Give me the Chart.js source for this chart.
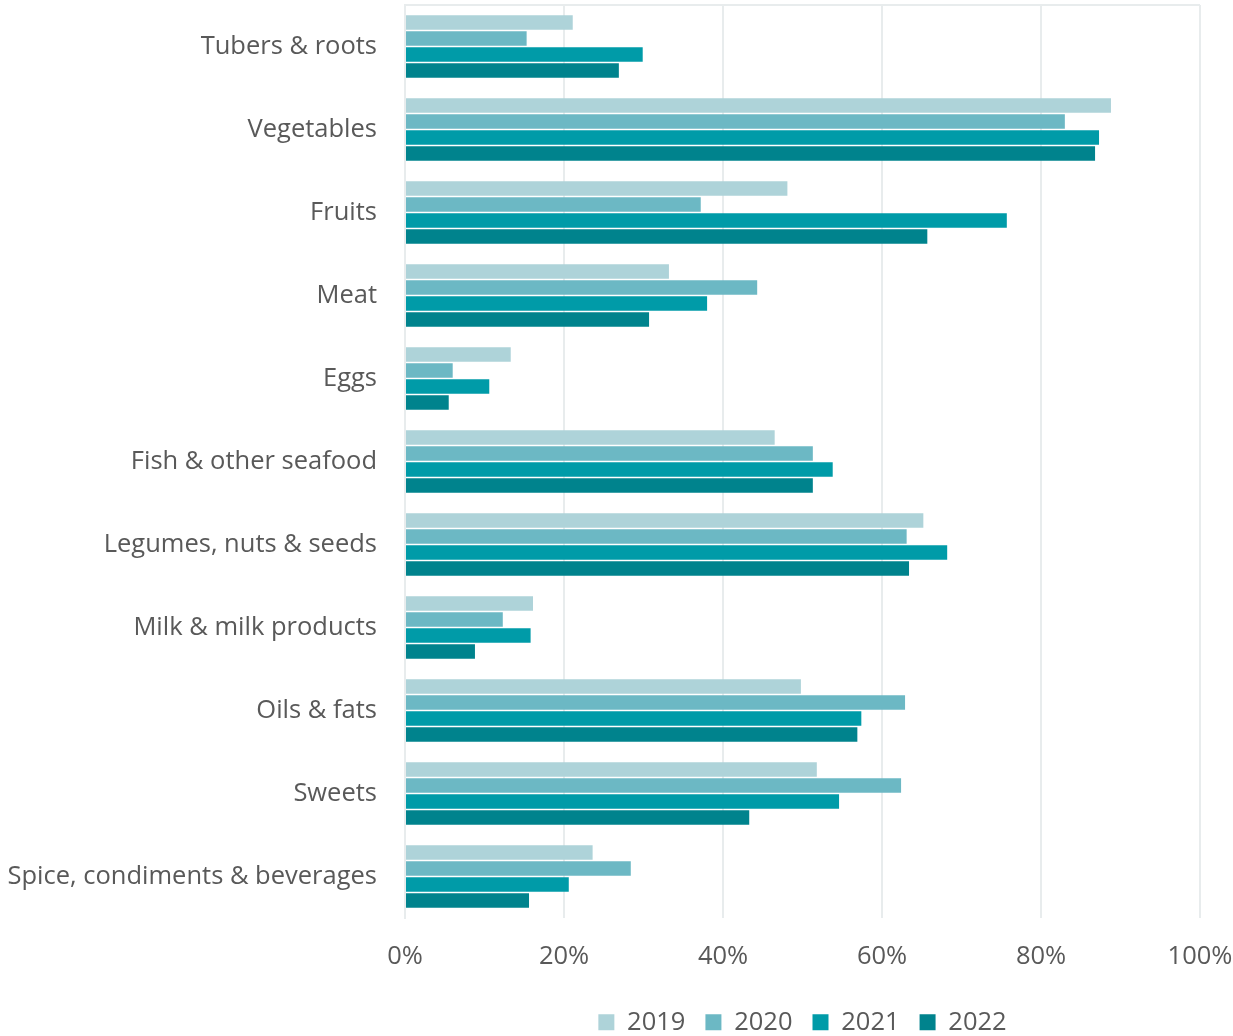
<!DOCTYPE html>
<html>
<head>
<meta charset="utf-8">
<script src="https://cdn.jsdelivr.net/npm/chart.js@4"></script>
<style>
  html, body { margin: 0; padding: 0; background: #fff; }
  #wrap { width: 1233px; height: 1036px; }
</style>
</head>
<body>
<div id="wrap"><canvas id="barChart"></canvas></div>
<script>
var categories = ["Tubers & roots", "Vegetables", "Fruits", "Meat", "Eggs", "Fish & other seafood",
    "Legumes, nuts & seeds", "Milk & milk products", "Oils & fats", "Sweets", "Spice, condiments & beverages"];

var years = ["2019", "2020", "2021", "2022"];

var data2019 = [21.1, 88.8, 48.1, 33.2, 13.3, 46.5, 65.2, 16.1, 49.8, 51.8, 23.6];
var data2020 = [15.3, 83.0, 37.2, 44.3, 6.0, 51.3, 63.1, 12.3, 62.9, 62.4, 28.4];
var data2021 = [29.9, 87.3, 75.7, 38.0, 10.6, 53.8, 68.2, 15.8, 57.4, 54.6, 20.6];
var data2022 = [26.9, 86.8, 65.7, 30.7, 5.5, 51.3, 63.4, 8.8, 56.9, 43.3, 15.6];

var colors = ["#aed3d9", "#6cb8c4", "#009ba8", "#00838d"];

var series = [data2019, data2020, data2021, data2022];

var textColor = '#595959';
var gridColor = '#e8eced';
var fontFamily = 'Open Sans';

// thin line along the top of the plot area
var topBorder = {
    id: 'topBorder',
    beforeDatasetsDraw: function (chart) {
        var a = chart.chartArea;
        var c = chart.ctx;
        c.save();
        c.strokeStyle = gridColor;
        c.lineWidth = 2;
        c.beginPath();
        c.moveTo(a.left, a.top);
        c.lineTo(a.right, a.top);
        c.stroke();
        c.restore();
    }
};

// center the legend under the plot area and push it down a bit
var legendPlace = {
    id: 'legendPlace',
    afterLayout: function (chart) {
        var lg = chart.legend;
        var a = chart.chartArea;
        lg.left = a.left;
        lg.right = a.right;
        lg.width = a.right - a.left;
        lg.top += 9;
        lg.bottom += 9;
    }
};

var barData = {
    labels: categories,
    datasets: years.map(function (y, i) {
        return {
            label: y,
            data: series[i],
            backgroundColor: colors[i],
            borderWidth: 0,
            barPercentage: 0.9,
            categoryPercentage: 0.77
        };
    })
};

var barOptions = {
    indexAxis: 'y',
    responsive: true,
    maintainAspectRatio: false,
    animation: false,
    layout: { padding: { top: 5, right: 33, bottom: 0, left: 0 } },
    plugins: {
        legend: {
            position: 'bottom',
            labels: {
                font: { family: fontFamily, size: 25.5 },
                color: textColor,
                boxWidth: 16,
                boxHeight: 16,
                padding: 20
            }
        },
        tooltip: { enabled: false }
    },
    scales: {
        x: {
            min: 0,
            max: 100,
            afterFit: function (scale) {
                scale.height = 62.5;
                scale.paddingLeft = 0;
                scale.paddingRight = 0;
            },
            ticks: {
                stepSize: 20,
                callback: function (v) { return v + '%'; },
                font: { family: fontFamily, size: 25.5 },
                color: textColor,
                padding: 23
            },
            grid: { color: gridColor, lineWidth: 2, drawTicks: false },
            border: { display: false }
        },
        y: {
            afterFit: function (scale) {
                scale.width = 405;
                scale.paddingTop = 0;
                scale.paddingBottom = 0;
            },
            ticks: {
                font: { family: fontFamily, size: 25.5 },
                color: textColor,
                padding: 28
            },
            grid: { display: false, drawTicks: false },
            border: { color: gridColor, width: 2 }
        }
    }
};

var ctx2 = document.getElementById("barChart").getContext("2d");
new Chart(ctx2, { type: 'bar', data: barData, options: barOptions, plugins: [topBorder, legendPlace] });
</script>
</body>
</html>
